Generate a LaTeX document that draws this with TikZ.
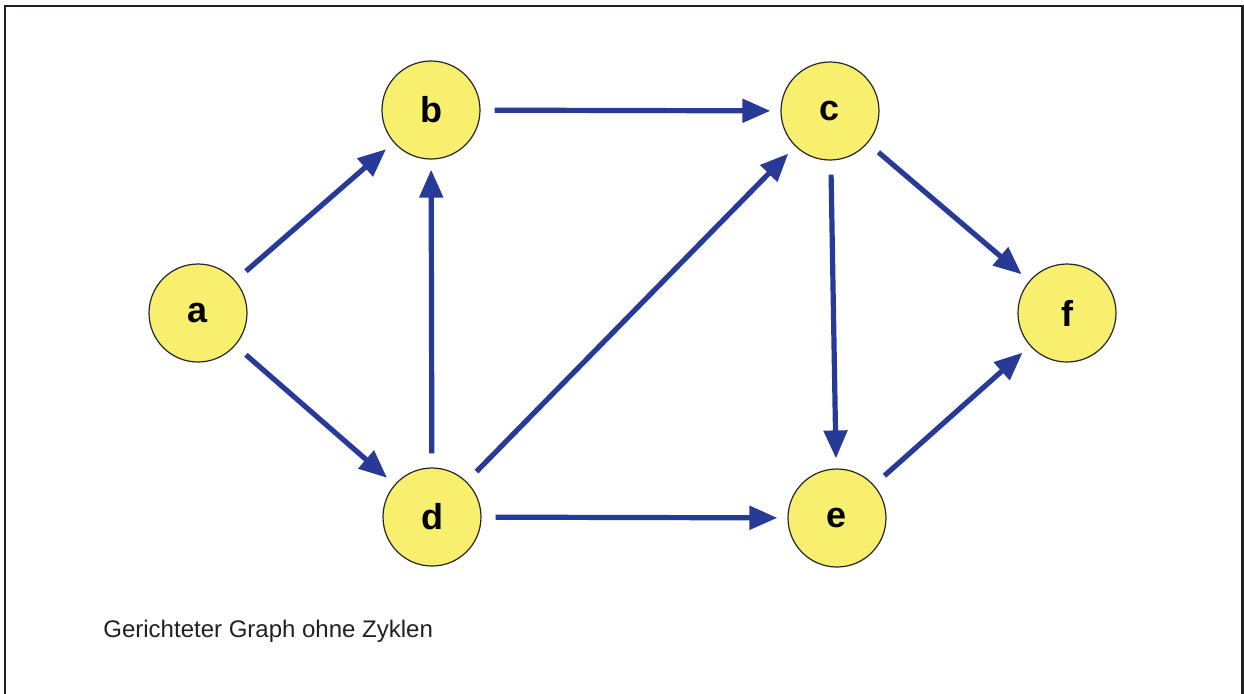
\documentclass[tikz,border=0pt]{standalone}
\usepackage{fontspec}
\setmainfont{Liberation Sans}
\usepackage{xcolor}
\usetikzlibrary{arrows.meta}
\definecolor{vertexyellow}{HTML}{F8EF6E}
\definecolor{arrowblue}{HTML}{283A98}
\definecolor{framegray}{HTML}{231F20}
\begin{document}
\begin{tikzpicture}[
  x=0.5pt, y=-0.5pt,
  vertex/.style={circle, draw=black!85, line width=0.6pt, fill=vertexyellow, minimum size=49pt, inner sep=0pt, font=\fontsize{18}{18}\selectfont\bfseries},
  arr/.style={-{Triangle[length=14pt,width=11.5pt]}, draw=arrowblue, line width=2.6pt, shorten <=7pt, shorten >=5pt}
]
\useasboundingbox (0,0) rectangle (1244,693);
\draw[framegray, line width=1.3pt] (5,6) rectangle (1242.5,720);

\node[vertex] (a) at (198,313) {a};
\node[vertex] (b) at (431,110) {b};
\node[vertex] (c) at (830,111) {c};
\node[vertex] (d) at (432,517) {d};
\node[vertex] (e) at (837,518) {e};
\node[vertex] (f) at (1067,313) {f};

\draw[arr] (a) -- (b);
\draw[arr] (a) -- (d);
\draw[arr] (b) -- (c);
\draw[arr] (d) -- (b);
\draw[arr] (d) -- (c);
\draw[arr] (d) -- (e);
\draw[arr] (c) -- (e);
\draw[arr] (c) -- (f);
\draw[arr] (e) -- (f);

\node[anchor=base west, inner sep=0pt, text=framegray, font=\fontsize{12}{12}\selectfont] (caption) at (103,637) {Gerichteter Graph ohne Zyklen};
\end{tikzpicture}
\end{document}
